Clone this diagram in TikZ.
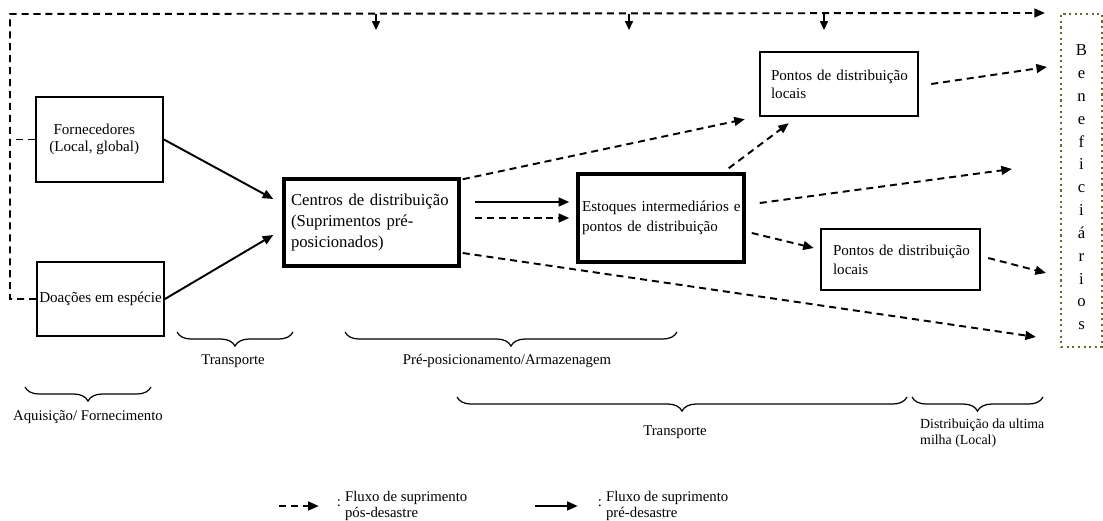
\documentclass[tikz,border=0pt]{standalone}
\usepackage{fontspec}
\setmainfont{Liberation Serif}
\usetikzlibrary{calc, positioning, decorations.pathreplacing, arrows.meta}

\definecolor{oliva}{RGB}{96,108,48}

\tikzset{
	caixa/.style={draw, line width=1.1pt, align=center, font=\fontsize{8.6}{9.6}\selectfont},
	caixagrossa/.style={draw, line width=2pt, align=left},
	fluxopre/.style={line width=1.1pt, -{Triangle[length=6pt,width=5pt]}},
	fluxopos/.style={fluxopre, dash pattern=on 4pt off 2.8pt},
	tracejado/.style={line width=1.1pt, dash pattern=on 4pt off 2.8pt},
	chave/.style={decorate, decoration={brace, mirror, amplitude=8pt}, line width=0.7pt},
	rotulo/.style={font=\fontsize{8.4}{9.6}\selectfont}
}

\begin{document}
\begin{tikzpicture}[x=0.02cm, y=-0.02cm]
	\useasboundingbox (0,0) rectangle (1103,521);
	
	%caixas
	\node[caixa, minimum width=2.54cm, minimum height=1.7cm] (forn) at (99.5,139.5) {Fornecedores\hspace*{6pt}\\(Local, global)\hspace*{6pt}};
	\node[caixa, minimum width=2.54cm, minimum height=1.48cm, inner xsep=1pt] (doa) at (100.5,299) {Doações em espécie};
	\node[caixagrossa, minimum height=1.74cm, text width=3.22cm, inner xsep=0.14cm, font=\fontsize{9.5}{11.9}\selectfont] (centros) at (371.5,222.5) {\mbox{Centros de distribuição}\\(Suprimentos pré-\\posicionados)};
	\node[caixagrossa, minimum height=1.76cm, text width=3.16cm, inner xsep=0.08cm, font=\fontsize{8.6}{11.3}\selectfont] (estoq) at (661,218) {\mbox{Estoques intermediários e}\\\mbox{pontos de distribuição}};
	\node[draw, line width=1.4pt, align=left, minimum height=1.28cm, text width=2.72cm, inner xsep=0.22cm, font=\fontsize{8.6}{10.2}\selectfont] (pontA) at (839,84) {\mbox{Pontos de distribuição}\\locais};
	\node[draw, line width=1.4pt, align=left, minimum height=1.22cm, text width=2.7cm, inner xsep=0.24cm, font=\fontsize{8.6}{10.8}\selectfont] (pontB) at (900.5,259.5) {\mbox{Pontos de distribuição}\\locais};
	\node[draw=oliva, dotted, line width=1.2pt, align=center, minimum width=0.82cm, minimum height=6.66cm, font=\fontsize{9.5}{13}\selectfont] (benef) at (1081.5,180.5) {\rule{0pt}{14pt}B\\e\\n\\e\\f\\i\\c\\i\\á\\r\\i\\o\\s};
	
	%linha de cima
	\coordinate (canto) at (10,14);
	\draw[fluxopos] (doa.west) -| (canto) -- ($(benef.north west)+(-15,0)$);
	\draw[tracejado] (forn.west) -- (forn.west -| canto);
	\foreach \x in {376,629,824}
		\draw[line width=0.8pt, -{Triangle[length=5pt,width=4.5pt]}] (\x,14) -- (\x,30);
	
	%fluxos
	\draw[fluxopre] (forn.east) -- ($(centros.west)+(-9,-23.5)$);
	\draw[fluxopre] (doa.east) -- ($(centros.west)+(-9,12.5)$);
	\draw[fluxopre] ($(centros.east)+(14,-20.5)$) -- ($(estoq.west)+(-7,-16)$);
	\draw[fluxopos] ($(centros.east)+(14,-4.5)$) -- ($(estoq.west)+(-7,0)$);
	\draw[fluxopos] ($(centros.north east)+(2,2)$) -- ($(pontA.south west)+(-14,2)$);
	\draw[fluxopos] ($(estoq.north east)+(-17,-4)$) -- ($(pontA.south west)+(30,6)$);
	\draw[fluxopos] ($(pontA.east)+(12,0)$) -- ($(benef.north west)+(-13,54)$);
	\draw[fluxopos] ($(estoq.east)+(14,-15)$) -- ($(benef.north west)+(-48,156)$);
	\draw[fluxopos] ($(estoq.east)+(6,15)$) -- ($(pontB.west)+(-6,-11.5)$);
	\draw[fluxopos] ($(pontB.east)+(7,-1.5)$) -- ($(benef.north west)+(-14,260)$);
	\draw[fluxopos] ($(centros.east)+(2,30.5)$) -- ($(benef.north west)+(-24,324)$);
	
	%etapas
	\draw[chave] (177,332) -- (293,332);
	\node[rotulo] (transp1) at (233,361) {Transporte};
	\draw[chave] (345,332) -- (677,332);
	\node[rotulo] (prepos) at (507,361) {Pré-posicionamento/Armazenagem};
	\draw[chave] (25,387) -- (151,387);
	\node[rotulo] (aquis) at (88,417) {Aquisição/ Fornecimento};
	\draw[chave] (457,397) -- (907,397);
	\node[rotulo] (transp2) at (675,432) {Transporte};
	\draw[chave] (912,397) -- (1043,397);
	\node[rotulo, font=\fontsize{7.9}{9}\selectfont, align=left, anchor=west] (distr) at (914,433) {Distribuição da ultima\\milha (Local)};
	
	%legenda
	\coordinate (legApos) at (279,506);
	\node[rotulo] (colApos) at (339,503) {:};
	\node[rotulo, align=left, anchor=west, inner xsep=1pt] (legpos) at (343,506) {Fluxo de suprimento\\pós-desastre};
	\draw[fluxopos] (legApos) -- ($(colApos.west)+(-12,3)$);
	\coordinate (legApre) at (535,506);
	\node[rotulo] (colApre) at (600,503) {:};
	\node[rotulo, align=left, anchor=west, inner xsep=1pt] (legpre) at (604,506) {Fluxo de suprimento\\pré-desastre};
	\draw[fluxopre] (legApre) -- ($(colApre.west)+(-14,3)$);
\end{tikzpicture}
\end{document}
